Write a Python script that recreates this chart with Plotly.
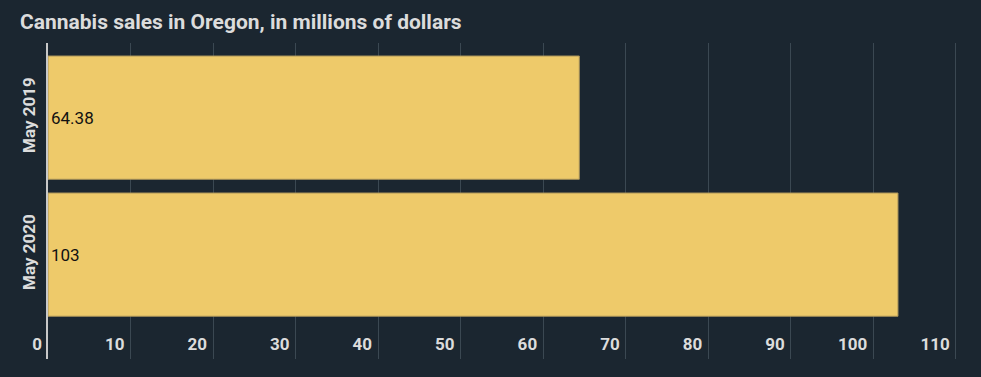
import plotly.graph_objects as go

categories = ["May 2019", "May 2020"]
sales = [64.38, 103]
value_labels = ["64.38", "103"]
tick_vals = [0, 10, 20, 30, 40, 50, 60, 70, 80, 90, 100, 110]

BG = "#1b2630"
GRID = "#3b4852"
TXT = "#dcdcdc"
BAR = "#eeca6a"

fig = go.Figure(go.Bar(
    x=sales, y=categories, orientation="h",
    text=value_labels, textposition="inside", insidetextanchor="start",
    textfont=dict(family="Roboto", size=17, color="#111111"),
    marker=dict(color=BAR, line=dict(color="#a8925a", width=1)),
    width=0.9, hoverinfo="skip", cliponaxis=False,
))

fig.update_layout(
    width=981, height=377,
    paper_bgcolor=BG, plot_bgcolor=BG,
    margin=dict(l=48, r=17, t=43, b=18),
    showlegend=False,
    title=dict(text="Cannabis sales in Oregon, in millions of dollars",
               x=20/981, xanchor="left", xref="container",
               y=1-22/377, yanchor="middle", yref="container",
               font=dict(family="Roboto", size=21, color=TXT, weight="bold")),
    xaxis=dict(range=[0, 111], tickvals=tick_vals, showgrid=True, gridcolor=GRID, gridwidth=1,
               zeroline=False, showline=False, ticks="",
               ticklabelposition="inside left", ticklabeloverflow="allow",
               ticklabelshift=-6,
               tickfont=dict(family="Roboto", size=17, color=TXT, weight="bold")),
    yaxis=dict(categoryorder="array", categoryarray=categories,
               range=[1.762, -0.545], showgrid=False, zeroline=False,
               showline=True, linecolor="#c8c8c8", linewidth=2,
               ticks="", tickangle=-90, ticklabelstandoff=4,
               tickfont=dict(family="Roboto", size=17, color=TXT, weight="bold")),
)

fig.write_html("out.html", config={"displayModeBar": False},
               post_script="document.body.style.margin='0';document.body.style.background='#1b2630';")
